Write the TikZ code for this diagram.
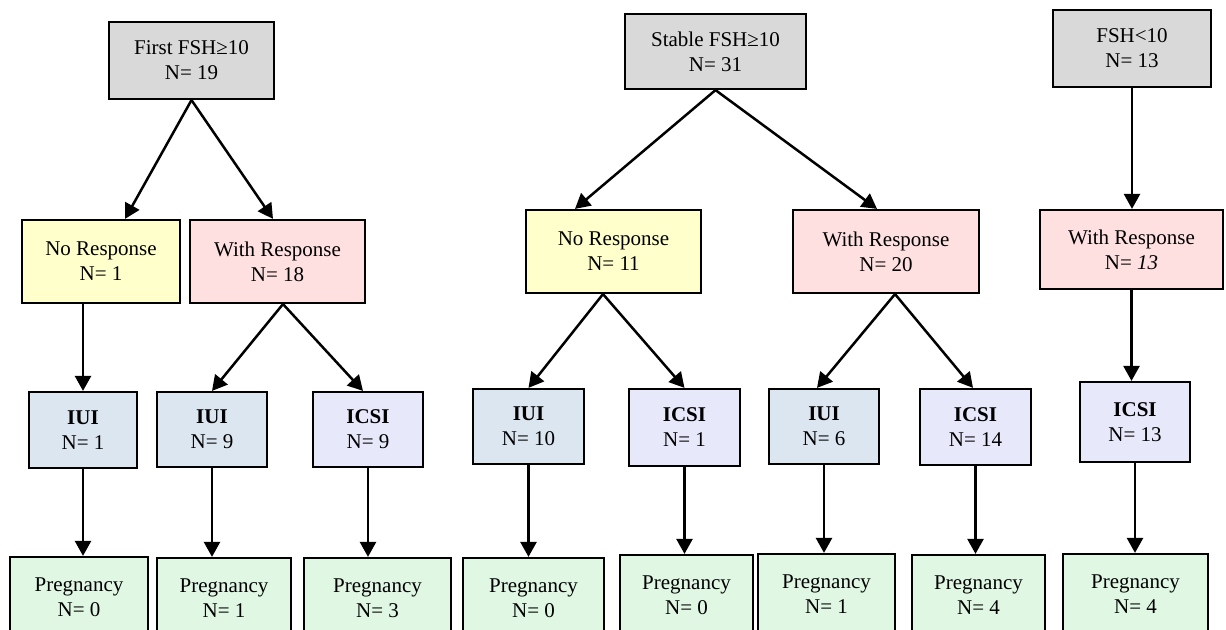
\documentclass[tikz,border=0pt]{standalone}
\usepackage{fontspec}
\setmainfont{Liberation Serif}
\usetikzlibrary{arrows.meta}
\begin{document}
\begin{tikzpicture}[x=0.5pt,y=-0.5pt,
		box/.style={draw,line width=1.1pt,align=center,inner sep=0pt,
			font=\fontsize{10.5}{12.5}\selectfont},
		grp/.style={box,fill=grpgray},
		nores/.style={box,fill=noyellow},
		withres/.style={box,fill=withpink},
		iui/.style={box,fill=iuiblue},
		icsi/.style={box,fill=icsiviolet},
		preg/.style={box,fill=preggreen,minimum height=40pt},
		arr/.style={-{Triangle[width=8pt,length=7.5pt]},line width=1.25pt}]
		\definecolor{grpgray}{HTML}{D9D9D9}
		\definecolor{noyellow}{HTML}{FFFFCC}
		\definecolor{withpink}{HTML}{FFE0E1}
		\definecolor{iuiblue}{HTML}{DCE6F1}
		\definecolor{icsiviolet}{HTML}{E8E8FB}
		\definecolor{preggreen}{HTML}{DFF7E3}
		\useasboundingbox (0,0) rectangle (1226,630);
		\clip (0,0) rectangle (1226,630);

		% groupes FSH
		\node[grp,minimum width=82.5pt,minimum height=38.5pt] (G1) at (191.5,60.5) {First FSH≥10\\N= 19};
		\node[grp,minimum width=90.5pt,minimum height=37.5pt] (G2) at (715.5,51.5) {Stable FSH≥10\\N= 31};
		\node[grp,minimum width=79pt,minimum height=38.5pt] (G3) at (1132,48.5) {FSH<10\\N= 13};

		% reponse
		\node[nores,minimum width=79pt,minimum height=41.5pt] (NR1) at (101,261.5) {No Response\\N= 1};
		\node[withres,minimum width=87.5pt,minimum height=41.5pt] (WR1) at (277.5,261.5) {With Response\\N= 18};
		\node[nores,minimum width=87.5pt,minimum height=41.5pt] (NR2) at (613.5,251.5) {No Response\\N= 11};
		\node[withres,minimum width=93pt,minimum height=41.5pt] (WR2) at (886,251.5) {With Response\\N= 20};
		\node[withres,minimum width=91.5pt,minimum height=39.5pt] (WR3) at (1131.5,249.5) {With Response\\N= \textit{13}};

		% traitement
		\node[iui,minimum width=54pt,minimum height=38pt] (T1) at (83,430) {\textbf{IUI}\\N= 1};
		\node[iui,minimum width=55pt,minimum height=37.5pt] (T2) at (212,429.5) {\textbf{IUI}\\N= 9};
		\node[icsi,minimum width=55pt,minimum height=37.5pt] (T3) at (368,429.5) {\textbf{ICSI}\\N= 9};
		\node[iui,minimum width=55.5pt,minimum height=37.5pt] (T4) at (528.5,426.5) {\textbf{IUI}\\N= 10};
		\node[icsi,minimum width=55.5pt,minimum height=38.5pt] (T5) at (684.5,427.5) {\textbf{ICSI}\\N= 1};
		\node[iui,minimum width=55pt,minimum height=37.5pt] (T6) at (824,426.5) {\textbf{IUI}\\N= 6};
		\node[icsi,minimum width=55.5pt,minimum height=38pt] (T7) at (975.5,427) {\textbf{ICSI}\\N= 14};
		\node[icsi,minimum width=55pt,minimum height=40pt] (T8) at (1135,422) {\textbf{ICSI}\\N= 13};

		% grossesses
		\node[preg,minimum width=69pt] (P1) at (79,597) {Pregnancy\\N= 0};
		\node[preg,minimum width=67pt] (P2) at (224,598) {Pregnancy\\N= 1};
		\node[preg,minimum width=73.5pt] (P3) at (377.5,598) {Pregnancy\\N= 3};
		\node[preg,minimum width=70.5pt] (P4) at (533.5,598) {Pregnancy\\N= 0};
		\node[preg,minimum width=66.5pt] (P5) at (686.5,595) {Pregnancy\\N= 0};
		\node[preg,minimum width=68.5pt] (P6) at (826.5,594) {Pregnancy\\N= 1};
		\node[preg,minimum width=66.5pt] (P7) at (978.5,595) {Pregnancy\\N= 4};
		\node[preg,minimum width=72.5pt] (P8) at (1135.5,594) {Pregnancy\\N= 4};

		\draw[arr] (G1.south) -- ([xshift=12pt]NR1.north);
		\draw[arr] (G1.south) -- ([xshift=-2.25pt]WR1.north);
		\draw[arr] (G2.south) -- ([xshift=-19.25pt]NR2.north);
		\draw[arr] (G2.south) -- ([xshift=-4.5pt]WR2.north);
		\draw[arr] (G3.south) -- (G3.south |- WR3.north);

		\draw[arr] (T1.north |- NR1.south) -- (T1.north);
		\draw[arr] ([xshift=2.75pt]WR1.south) -- (T2.north);
		\draw[arr] ([xshift=2.75pt]WR1.south) -- ([xshift=-2.5pt]T3.north);
		\draw[arr] ([xshift=-5.25pt]NR2.south) -- (T4.north);
		\draw[arr] ([xshift=-5.25pt]NR2.south) -- (T5.north);
		\draw[arr] ([xshift=4.5pt]WR2.south) -- ([xshift=-3.5pt]T6.north);
		\draw[arr] ([xshift=4.5pt]WR2.south) -- ([xshift=-1.25pt]T7.north);
		\draw[arr] (WR3.south) -- (WR3.south |- T8.north);

		\draw[arr] (T1.south) -- (T1.south |- P1.north);
		\draw[arr] (T2.south) -- (T2.south |- P2.north);
		\draw[arr] (T3.south) -- (T3.south |- P3.north);
		\draw[arr] (T4.south) -- (T4.south |- P4.north);
		\draw[arr] (T5.south) -- (T5.south |- P5.north);
		\draw[arr] (T6.south) -- (T6.south |- P6.north);
		\draw[arr] (T7.south) -- (T7.south |- P7.north);
		\draw[arr] (T8.south) -- (T8.south |- P8.north);

	\end{tikzpicture}
\end{document}
